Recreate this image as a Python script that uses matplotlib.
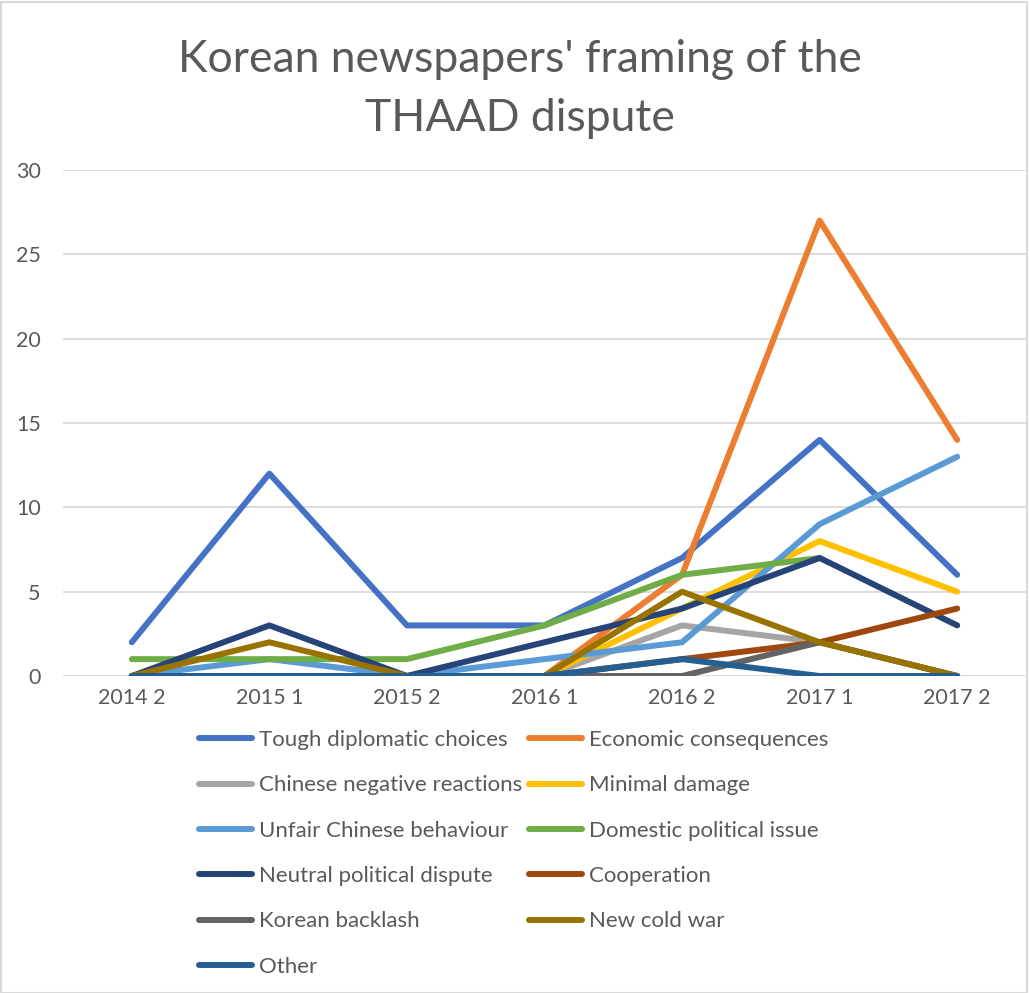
import matplotlib
matplotlib.use("Agg")
import matplotlib.pyplot as plt
import numpy as np
from matplotlib.patches import Rectangle

plt.rcParams['font.family'] = ['Lato', 'DejaVu Sans']

periods = ["2014 2", "2015 1", "2015 2", "2016 1", "2016 2", "2017 1", "2017 2"]
nan = np.nan
tough = [2, 12, 3, 3, 7, 14, 6]
economic = [0, 0, 0, 0, 6, 27, 14]
chinese_neg = [0, 0, 0, 0, 3, 2, 0]
minimal = [0, 0, 0, 0, 4, 8, 5]
unfair = [0, 1, 0, 1, 2, 9, 13]
domestic = [1, 1, 1, 3, 6, 7, nan]
neutral = [0, 3, 0, 2, 4, 7, 3]
cooperation = [0, 0, 0, 0, 1, 2, 4]
backlash = [0, 0, 0, 0, 0, 2, 0]
cold_war = [0, 2, 0, 0, 5, 2, 0]
other = [0, 0, 0, 0, 1, 0, 0]

series = [
    ("Tough diplomatic choices", tough, "#4472C4"),
    ("Economic consequences", economic, "#ED7D31"),
    ("Chinese negative reactions", chinese_neg, "#A5A5A5"),
    ("Minimal damage", minimal, "#FFC000"),
    ("Unfair Chinese behaviour", unfair, "#5B9BD5"),
    ("Domestic political issue", domestic, "#70AD47"),
    ("Neutral political dispute", neutral, "#264478"),
    ("Cooperation", cooperation, "#9E480E"),
    ("Korean backlash", backlash, "#636363"),
    ("New cold war", cold_war, "#997300"),
    ("Other", other, "#255E91"),
]

W, H = 1030, 993
fig = plt.figure(figsize=(W / 100, H / 100), dpi=100)
ax = fig.add_axes([63 / W, 1 - 676 / H, 963 / W, 506 / H])

x = np.arange(len(periods))
handles = []
for name, vals, col in series:
    ln, = ax.plot(x, vals, color=col, lw=4.3, solid_capstyle='round',
                  solid_joinstyle='round', label=name, zorder=3)
    handles.append(ln)

ax.set_xlim(-0.5, len(periods) - 0.5)
ax.set_ylim(0, 30)
ax.set_yticks(range(0, 31, 5))
ax.set_xticks(x)
ax.set_xticklabels(periods)
ax.grid(axis='y', color='#D9D9D9', lw=1.3, zorder=0)
ax.set_axisbelow(True)
for s in ax.spines.values():
    s.set_visible(False)
ax.tick_params(axis='both', length=0, labelsize=15.5, colors='#595959', pad=9)
ax.tick_params(axis='y', pad=16)
for lab in ax.get_yticklabels():
    lab.set_horizontalalignment('right')

fig.text(520 / W, 1 - 89 / H, "Korean newspapers' framing of the\nTHAAD dispute",
         ha='center', va='center', fontsize=32, color='#595959', linespacing=1.55)

# legend: row-wise order in two columns
order = [0, 2, 4, 6, 8, 10, 1, 3, 5, 7, 9]
leg = fig.legend([handles[i] for i in order], [series[i][0] for i in order],
                 loc='upper left', bbox_to_anchor=(199 / W, 1 - 730 / H), ncol=2,
                 frameon=False, fontsize=16, labelcolor='#595959',
                 handlelength=2.4, handletextpad=0.3, columnspacing=0.3,
                 labelspacing=1.14, borderaxespad=0, borderpad=0)

fig.patches.append(Rectangle((0.5 / W, 0.5 / H), (W - 4) / W, (H - 2) / H,
                             transform=fig.transFigure, fill=False,
                             edgecolor='#D9D9D9', lw=1.5))

fig.savefig("out.png", dpi=100)
